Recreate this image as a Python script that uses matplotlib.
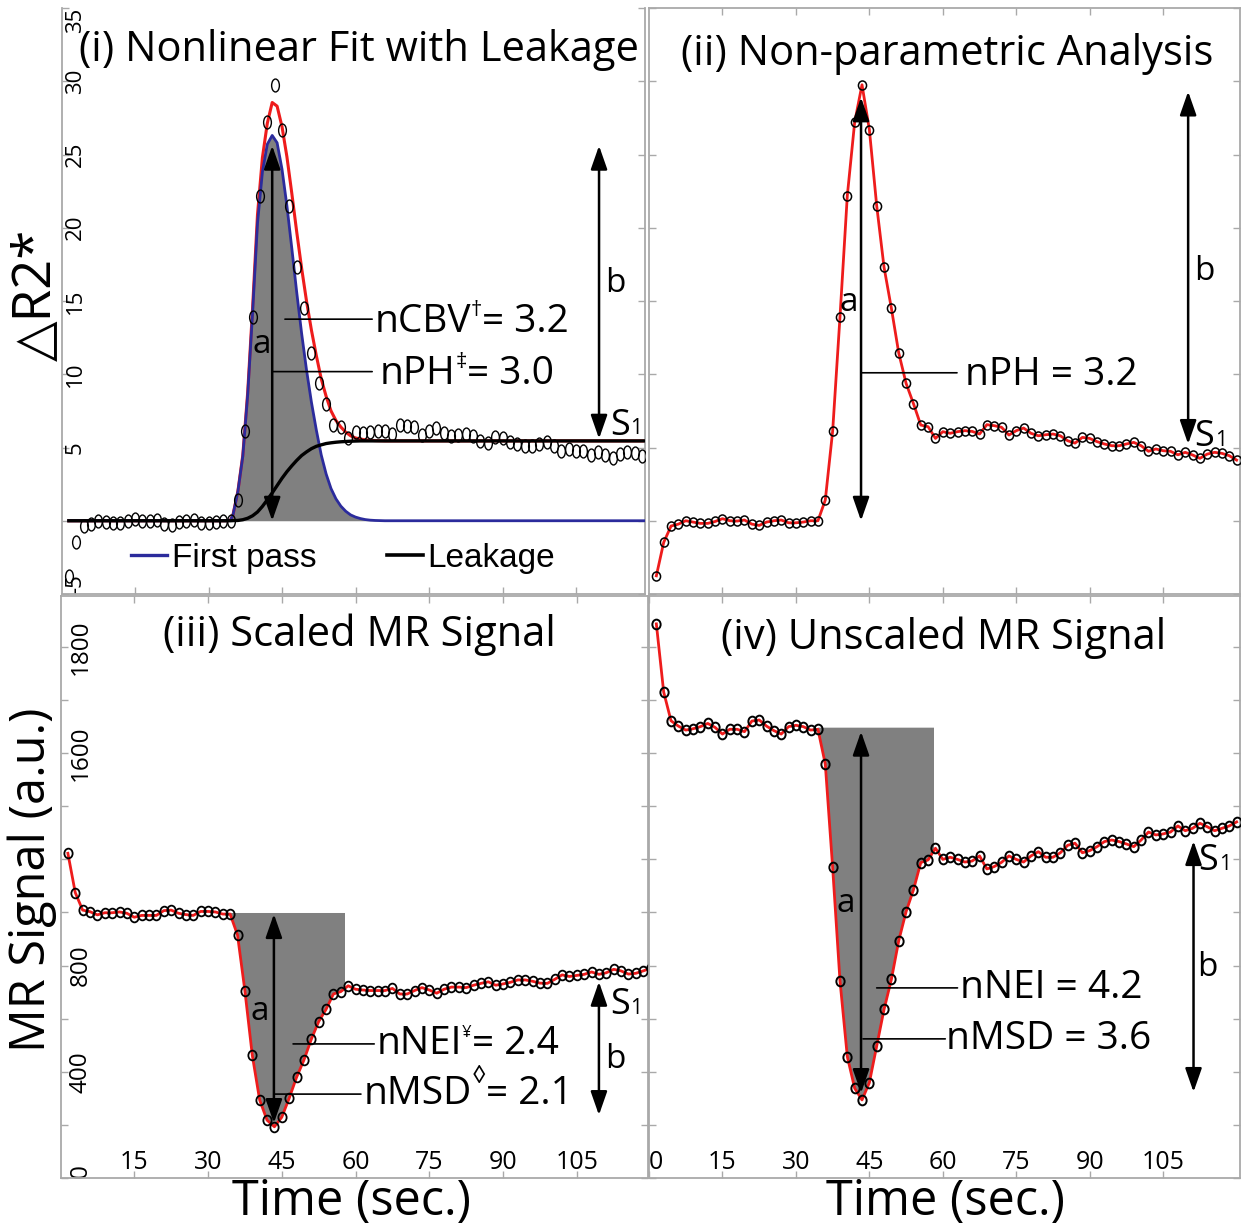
import numpy as np
import matplotlib
matplotlib.use("Agg")
import matplotlib.pyplot as plt
from matplotlib.path import Path
from matplotlib.transforms import Affine2D
from matplotlib.lines import Line2D
from matplotlib.patches import Rectangle, ArrowStyle
from matplotlib import font_manager

plt.rcParams['font.family'] = ['Open Sans', 'DejaVu Sans']

# ------------------------------------------------------------------ data
time_s = np.arange(1, 81) * 1.5          # acquisition times, TR = 1.5 s

delta_r2 = [-3.76, -1.48, -0.36, -0.23, 0.00, -0.09, -0.18, -0.18, -0.05, 0.14,
            0.00, -0.02, 0.05, -0.23, -0.32, -0.09, 0.00, 0.05, -0.14, -0.14,
            -0.09, 0.00, 0.00, 1.41, 6.10, 13.90, 22.20, 27.20, 29.76, 26.70,
            21.50, 17.30, 14.50, 11.45, 9.38, 8.00, 6.53, 6.42, 5.62, 6.08,
            5.97, 6.08, 6.15, 6.10, 5.92, 6.56, 6.49, 6.38, 5.85, 6.15,
            6.33, 5.97, 5.80, 5.87, 5.92, 5.80, 5.46, 5.30, 5.69, 5.62,
            5.40, 5.24, 5.12, 5.12, 5.24, 5.35, 5.12, 4.74, 4.90, 4.78,
            4.74, 4.50, 4.67, 4.49, 4.26, 4.55, 4.67, 4.60, 4.44, 4.14]

mr_scaled = [1223, 1075, 1009, 1003, 991, 999, 999, 1002, 997, 982,
             989, 989, 989, 1007, 1009, 997, 992, 989, 1004, 1004,
             1002, 994, 994, 915, 705, 463, 294, 218, 193, 229,
             300, 379, 444, 522, 589, 635, 693, 702, 724, 711,
             708, 706, 706, 706, 714, 693, 693, 706, 717, 708,
             696, 711, 719, 719, 717, 726, 733, 739, 726, 731,
             737, 746, 746, 741, 734, 733, 748, 765, 759, 763,
             767, 776, 767, 773, 786, 780, 768, 771, 780, 790]

mr_unscaled = [2087, 1830, 1722, 1702, 1687, 1692, 1700, 1712, 1697, 1672,
               1690, 1690, 1681, 1721, 1725, 1702, 1685, 1672, 1700, 1705,
               1700, 1687, 1690, 1559, 1170, 743, 457, 338, 294, 359,
               497, 635, 748, 894, 1003, 1085, 1188, 1198, 1242, 1200,
               1208, 1200, 1190, 1194, 1213, 1164, 1173, 1189, 1213, 1200,
               1190, 1213, 1229, 1208, 1208, 1225, 1253, 1261, 1225, 1233,
               1248, 1267, 1273, 1267, 1258, 1248, 1273, 1303, 1292, 1296,
               1303, 1326, 1308, 1317, 1336, 1323, 1308, 1317, 1326, 1341]

fit_time = [1.5, 34, 34.5, 35, 36, 37, 38, 39, 40, 41, 42, 43, 44, 45, 46, 47, 48,
            49, 50, 51, 52, 53, 54, 55, 56, 57, 58, 59, 60, 61, 62, 63, 64, 65,
            66, 70, 120]
fit_first_pass = [0, 0, 0.05, 0.4, 2.0, 4.4, 8.6, 14.2, 20.3, 23.8, 25.7, 26.3, 25.8,
                  24.0, 21.5, 18.6, 15.6, 12.8, 10.3, 8.1, 6.2, 4.5, 3.2, 2.2, 1.5,
                  1.0, 0.65, 0.4, 0.25, 0.15, 0.08, 0.04, 0.02, 0.01, 0, 0, 0]
fit_leakage = [0, 0, 0, 0.01, 0.02, 0.07, 0.17, 0.34, 0.6, 0.98, 1.43, 1.9, 2.4,
               2.9, 3.35, 3.75, 4.12, 4.45, 4.7, 4.92, 5.08, 5.18, 5.27, 5.32, 5.36,
               5.39, 5.41, 5.43, 5.44, 5.45, 5.45, 5.45, 5.45, 5.45, 5.45, 5.45, 5.45]
fit_total = [0, 0, 0.05, 0.41, 2.02, 4.47, 8.77, 14.54, 20.9, 24.78, 27.13, 28.55,
             28.3, 26.9, 24.85, 22.35, 19.72, 17.25, 15.0, 13.02, 11.28, 9.7, 8.5,
             7.5, 6.85, 6.4, 6.05, 5.8, 5.65, 5.58, 5.52, 5.49, 5.47, 5.46, 5.45,
             5.45, 5.45]

x_ticks = [15, 30, 45, 60, 75, 90, 105]
x_ticks_iv = [0, 15, 30, 45, 60, 75, 90, 105]
x_labels_iii = ['15', '30', '45', '60', '75', '90', '105']
x_labels_iv = ['0', '15', '30', '45', '60', '75', '90', '105']
r2_ticks = [-5, 0, 5, 10, 15, 20, 25, 30, 35]
r2_labels = ['-5', '', '5', '10', '15', '20', '25', '30', '35']
mr_ticks = [0, 200, 400, 600, 800, 1000, 1200, 1400, 1600, 1800, 2000]
mr_labels = ['0', '', '400', '', '800', '', '', '', '1600', '', '1800']

titles = ['(i) Nonlinear Fit with Leakage', '(ii) Non-parametric Analysis',
          '(iii) Scaled MR Signal', '(iv) Unscaled MR Signal']

# ------------------------------------------------------------------ style
W, H = 1246, 1230
RED = '#ee1c1c'
BLUE = '#2b2b9c'
GREY = '#808080'
SPINE = '#a9a9a9'

names = {f.name for f in font_manager.fontManager.ttflist}
if 'Liberation Sans Narrow' in names:
    LEG_FAM, LEG_SIZE, HL, HTP, CS = 'Liberation Sans Narrow', 29, 0.9, 0.13, 1.75
else:
    LEG_FAM, LEG_SIZE, HL, HTP, CS = 'Liberation Sans', 24, 1.08, 0.15, 2.1

fig = plt.figure(figsize=(W / 100, H / 100), dpi=100)
fig.patch.set_facecolor('white')


def rect(l, r, t, b):
    return [l / W, 1 - b / H, (r - l) / W, (b - t) / H]


def ellipse(aspect):
    return Path.unit_circle().transformed(Affine2D().scale(aspect, 1.0))


def style(ax, top=True):
    for s in ax.spines.values():
        s.set_color(SPINE)
        s.set_linewidth(1.3)
    ax.spines['top'].set_visible(top)
    ax.tick_params(which='both', direction='in', length=5, width=1, color=SPINE,
                   top=top, right=True, left=True, bottom=True,
                   labelbottom=False, labelleft=False)


def inside_ylabels(ax, ticks, labels, size, pad, va_over):
    ax.set_yticks(ticks, labels)
    ax.tick_params(axis='y', labelleft=True, labelsize=size, pad=-pad,
                   labelrotation=90)
    for tk, lab in zip(ax.yaxis.get_major_ticks(), labels):
        tk.label1.set_ha('left')
        tk.label1.set_va(va_over.get(lab, 'center'))


def double_arrow(ax, x, y0, y1):
    ax.annotate('', xy=(x, y1), xytext=(x, y0),
                arrowprops=dict(arrowstyle=ArrowStyle('<|-|>', head_length=0.8,
                                                      head_width=0.28),
                                mutation_scale=18, color='k', lw=1.8,
                                shrinkA=0, shrinkB=0), zorder=6)


def leader(ax, x0, x1, y):
    ax.annotate('', xy=(x0, y), xytext=(x1, y),
                arrowprops=dict(arrowstyle='-', lw=1.2, color='k',
                                shrinkA=0, shrinkB=0), zorder=6)


def label_sup(ax, x, y, base, sup, rest, sup_size, sup_dy=0, rest_dx=0, size=28):
    t1 = ax.text(x, y, base, fontsize=size, ha='left', va='center', zorder=7)
    t2 = ax.annotate(sup, xy=(1, 1), xycoords=t1, xytext=(0, sup_dy),
                     textcoords='offset points', fontsize=sup_size,
                     ha='left', va='top', zorder=7)
    ax.annotate(rest, xy=(1, 0), xycoords=(t2, t1), xytext=(rest_dx, 0),
                textcoords='offset points', fontsize=size,
                ha='left', va='bottom', zorder=7)


def s1(ax, x, y):
    t = ax.text(x, y, 'S', fontsize=26, ha='left', va='center', zorder=7)
    ax.annotate('1', xy=(1, 0), xycoords=t, xytext=(0.3, 3.0),
                textcoords='offset points', fontsize=15, ha='left',
                va='bottom', zorder=7)


# ------------------------------------------------------------------ axes
ax1 = fig.add_axes(rect(61.5, 645, 8, 594))
ax2 = fig.add_axes(rect(649, 1240, 8, 594))
ax3 = fig.add_axes(rect(60.5, 648, 596, 1178))
ax4 = fig.add_axes(rect(649, 1240, 596, 1178))

ax1.set_xlim(0, 119.08)
ax2.set_xlim(0, 120.69)
ax3.set_xlim(0, 119.48)
ax4.set_xlim(0, 120.69)
for ax in (ax1, ax2):
    ax.set_ylim(-5, 35)
for ax in (ax3, ax4):
    ax.set_ylim(0, 2192)

style(ax1, top=False)
for ax in (ax2, ax3, ax4):
    style(ax)

for ax in (ax1, ax2, ax3):
    ax.set_xticks(x_ticks)
ax4.set_xticks(x_ticks_iv)
ax1.set_yticks(r2_ticks)
ax2.set_yticks(r2_ticks)
inside_ylabels(ax1, r2_ticks, r2_labels, 16, 2.5, {'-5': 'bottom', '35': 'top'})
inside_ylabels(ax3, mr_ticks, mr_labels, 17.5, 6, {'0': 'bottom'})
ax4.set_yticks(mr_ticks)

ax3.set_xticks(x_ticks, x_labels_iii)
ax4.set_xticks(x_ticks_iv, x_labels_iv)
for ax in (ax3, ax4):
    ax.tick_params(axis='x', labelbottom=True, labelsize=18, pad=-20)
ax4.xaxis.get_major_ticks()[0].label1.set_ha('left')

# ------------------------------------------------------------------ panel (i)
ax1.fill_between(fit_time, fit_first_pass, 0, color=GREY, lw=0, zorder=1)
ax1.plot(fit_time, fit_total, color=RED, lw=2.2, zorder=2)
ax1.plot(fit_time, fit_first_pass, color=BLUE, lw=2.0, zorder=3)
ax1.plot(fit_time, fit_leakage, color='k', lw=2.4, zorder=4)
ax1.plot(time_s, delta_r2, ls='none', marker=ellipse(0.6), ms=9.3, mfc='none',
         mec='k', mew=1.0, zorder=5)
double_arrow(ax1, 43.0, 0, 25.6)
double_arrow(ax1, 109.7, 5.6, 25.6)
ax1.text(40.8, 12.0, 'a', fontsize=24, ha='center', va='center', zorder=7)
ax1.text(113.0, 16.2, 'b', fontsize=24, ha='center', va='center', zorder=7)
leader(ax1, 45.6, 63.4, 13.76)
leader(ax1, 43.0, 63.4, 10.18)
label_sup(ax1, 63.9, 13.6, 'nCBV', '\u2020', '= 3.2', 16, sup_dy=2)
label_sup(ax1, 65.0, 10.0, 'nPH', '\u2021', '= 3.0', 16, sup_dy=2)
s1(ax1, 112.0, 6.5)
ax1.legend([Line2D([], [], color=BLUE, lw=2.4), Line2D([], [], color='k', lw=2.6)],
           ['First pass', 'Leakage'], loc='center left',
           bbox_to_anchor=(0.119, 0.0606), ncol=2, frameon=False, borderpad=0,
           borderaxespad=0, handlelength=HL, handletextpad=HTP, columnspacing=CS,
           prop={'family': LEG_FAM, 'size': LEG_SIZE})

# ------------------------------------------------------------------ panel (ii)
ax2.plot(time_s, delta_r2, color=RED, lw=2.0, marker=ellipse(0.9), ms=6.5,
         mfc='none', mec='k', mew=1.1, zorder=3)
double_arrow(ax2, 43.3, 0, 28.9)
double_arrow(ax2, 110.1, 5.24, 29.3)
ax2.text(40.8, 14.9, 'a', fontsize=24, ha='center', va='center', zorder=7)
ax2.text(113.5, 17.0, 'b', fontsize=24, ha='center', va='center', zorder=7)
leader(ax2, 43.3, 62.9, 10.1)
ax2.text(64.5, 9.95, 'nPH = 3.2', fontsize=28, ha='left', va='center', zorder=7)
s1(ax2, 111.4, 5.7)

# ------------------------------------------------------------------ panel (iii)
scaled_baseline = 1000
fill3 = ax3.fill_between(time_s[21:40], mr_scaled[21:40], scaled_baseline,
                         color=GREY, lw=0, zorder=1)
fill3.set_clip_path(Rectangle((34.5, 0), 57.6 - 34.5, 3000, transform=ax3.transData))
ax3.plot(time_s, mr_scaled, color=RED, lw=2.0, marker=ellipse(0.85), ms=7,
         mfc='none', mec='k', mew=1.3, zorder=3)
double_arrow(ax3, 43.4, 207, 994)
double_arrow(ax3, 109.5, 237, 739)
ax3.text(40.45, 626, 'a', fontsize=24, ha='center', va='center', zorder=7)
ax3.text(112.8, 448, 'b', fontsize=24, ha='center', va='center', zorder=7)
leader(ax3, 47.3, 63.8, 505)
leader(ax3, 43.5, 61.1, 316)
label_sup(ax3, 64.3, 505, 'nNEI', '\u00a5', '= 2.4', 12, sup_dy=0, rest_dx=0)
label_sup(ax3, 61.6, 316, 'nMSD', '\u25ca', '= 2.1', 18, sup_dy=8, rest_dx=0)
s1(ax3, 111.8, 650)

# ------------------------------------------------------------------ panel (iv)
unscaled_baseline = 1698
fill4 = ax4.fill_between(time_s[21:40], mr_unscaled[21:40], unscaled_baseline,
                         color=GREY, lw=0, zorder=1)
fill4.set_clip_path(Rectangle((34.6, 0), 57.9 - 34.6, 3000, transform=ax4.transData))
ax4.plot(time_s, mr_unscaled, color=RED, lw=2.0, marker=ellipse(0.85), ms=7,
         mfc='none', mec='k', mew=1.4, zorder=3)
double_arrow(ax4, 43.3, 320, 1681)
double_arrow(ax4, 111.2, 324, 1269)
ax4.text(40.2, 1032, 'a', fontsize=24, ha='center', va='center', zorder=7)
ax4.text(114.1, 793, 'b', fontsize=24, ha='center', va='center', zorder=7)
leader(ax4, 46.5, 63.0, 716)
leader(ax4, 43.7, 60.5, 524)
ax4.text(63.5, 716, 'nNEI = 4.2', fontsize=28, ha='left', va='center', zorder=7)
ax4.text(60.6, 524, 'nMSD = 3.6', fontsize=28, ha='left', va='center', zorder=7)
s1(ax4, 112.2, 1195)

# ------------------------------------------------------------------ titles / labels
for ax, title, (xf, yf) in zip((ax1, ax2, ax3, ax4), titles,
                               [(0.51, 0.928), (0.504, 0.921), (0.509, 0.933), (0.499, 0.928)]):
    ax.text(xf, yf, title, transform=ax.transAxes, fontsize=30,
            ha='center', va='center', zorder=8)

fig.text(36 / W, 1 - 295 / H, '\u25b3R2*', rotation=90, fontsize=38,
         ha='center', va='center')
fig.text(32 / W, 1 - 880 / H, 'MR Signal (a.u.)', rotation=90, fontsize=35,
         ha='center', va='center')
fig.text(351 / W, 1 - 1202.5 / H, 'Time (sec.)', fontsize=35, ha='center', va='center')
fig.text(945.5 / W, 1 - 1202.5 / H, 'Time (sec.)', fontsize=35, ha='center', va='center')

fig.savefig('out.png', dpi=100, facecolor='white')
